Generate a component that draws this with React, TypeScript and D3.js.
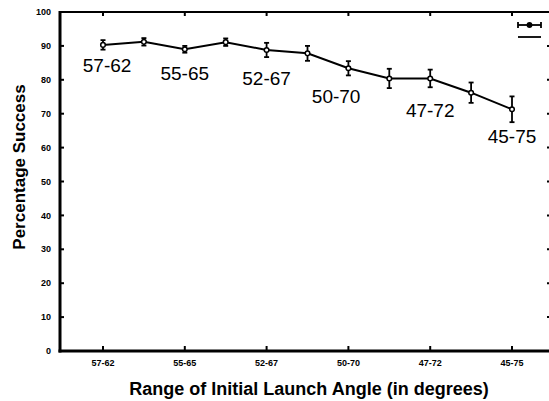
import * as d3 from "d3";

// half-step positions between the range labels
const rangeLabels = ["57-62", "55-65", "52-67", "50-70", "47-72", "45-75"];
const success = [90.3, 91.2, 89.0, 91.1, 88.8, 87.8, 83.4, 80.4, 80.4, 76.2, 71.3];
const errors = [1.4, 1.1, 1.0, 1.1, 2.1, 2.2, 2.1, 2.85, 2.6, 3.0, 3.8];
const yTicks = [0, 10, 20, 30, 40, 50, 60, 70, 80, 90, 100];
// in-plot annotations: [x index, y value]
const annotationAt: [number, number][] = [
  [0.1, 82.3],
  [2.0, 79.9],
  [4.0, 78.5],
  [5.7, 73.2],
  [8.0, 69.0],
  [10.0, 61.4],
];

const W = 549;
const H = 401;
const font = "'Liberation Sans', Arial, Helvetica, sans-serif";

export default function App() {
  const left = 60;
  const top = 12;
  const bottom = 351;
  const right = 551;

  const x = d3.scaleLinear().domain([0, 10]).range([103, 512]);
  const y = d3.scaleLinear().domain([0, 100]).range([bottom, top]);

  const line = d3
    .line<number>()
    .x((_, i) => x(i))
    .y((d) => y(d));

  const catIdx = rangeLabels.map((_, i) => i * 2);

  return (
    <svg
      width={W}
      height={H}
      style={{ position: "absolute", left: 0, top: 0, background: "#fff" }}
      fontFamily={font}
    >
      {/* frame */}
      <line x1={left} x2={right} y1={top} y2={top} stroke="#000" strokeWidth={2} />
      <line x1={left} x2={left} y1={top - 1} y2={bottom + 1.5} stroke="#000" strokeWidth={3} />
      <line x1={left - 1.5} x2={right} y1={bottom} y2={bottom} stroke="#000" strokeWidth={3} />

      {/* y ticks */}
      {yTicks.map((t) => (
        <g key={t}>
          <line x1={left} x2={left + 4} y1={y(t)} y2={y(t)} stroke="#000" strokeWidth={2} />
          <line x1={right - 4} x2={right} y1={y(t)} y2={y(t)} stroke="#000" strokeWidth={2} />
          <text
            x={51}
            y={y(t)}
            dy="0.35em"
            textAnchor="end"
            fontSize={9}
            fontWeight="bold"
          >
            {t}
          </text>
        </g>
      ))}

      {/* x ticks */}
      {catIdx.map((ci, i) => (
        <g key={ci}>
          <line x1={x(ci)} x2={x(ci)} y1={bottom} y2={bottom - 5} stroke="#000" strokeWidth={2} />
          <line x1={x(ci)} x2={x(ci)} y1={top} y2={top + 4} stroke="#000" strokeWidth={2} />
          <text x={x(ci)} y={366} textAnchor="middle" fontSize={9} fontWeight="bold">
            {rangeLabels[i]}
          </text>
        </g>
      ))}

      {/* series line */}
      <path d={line(success) ?? ""} fill="none" stroke="#000" strokeWidth={2} />

      {/* error bars */}
      {success.map((v, i) => (
        <g key={i} stroke="#000" strokeWidth={1.8}>
          <line x1={x(i)} x2={x(i)} y1={y(v - errors[i])} y2={y(v + errors[i])} />
          <line x1={x(i) - 2.5} x2={x(i) + 2.5} y1={y(v - errors[i])} y2={y(v - errors[i])} />
          <line x1={x(i) - 2.5} x2={x(i) + 2.5} y1={y(v + errors[i])} y2={y(v + errors[i])} />
          <circle cx={x(i)} cy={y(v)} r={2.3} fill="#fff" strokeWidth={1.5} />
        </g>
      ))}

      {/* annotations */}
      {annotationAt.map(([xi, yv], i) => (
        <text key={i} x={x(xi)} y={y(yv)} textAnchor="middle" fontSize={19}>
          {rangeLabels[i]}
        </text>
      ))}

      {/* legend */}
      <g stroke="#000" strokeWidth={1.8}>
        <line x1={518} x2={541} y1={25} y2={25} />
        <line x1={518} x2={518} y1={22} y2={28} />
        <line x1={541} x2={541} y1={22} y2={28} />
        <circle cx={529.5} cy={25} r={2} fill="#000" />
        <line x1={518} x2={541} y1={37} y2={37} />
      </g>

      {/* axis titles */}
      <text x={309} y={395} textAnchor="middle" fontSize={18} fontWeight="bold">
        Range of Initial Launch Angle (in degrees)
      </text>
      <text
        transform="translate(25, 167) rotate(-90)"
        textAnchor="middle"
        fontSize={17}
        fontWeight="bold"
      >
        Percentage Success
      </text>
    </svg>
  );
}
